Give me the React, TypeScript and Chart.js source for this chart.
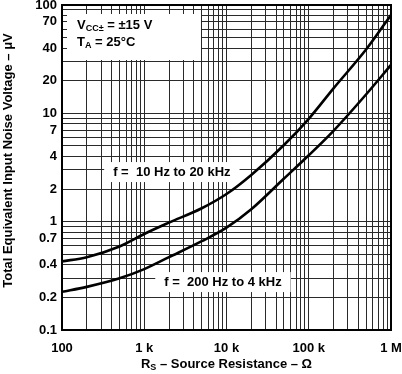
import React, { useEffect, useRef } from 'react';
import { Chart, registerables } from 'chart.js';

Chart.register(...registerables);

// Source resistance (Ω)
const sourceResistance = [100, 200, 500, 1000, 2000, 5000, 10000, 20000, 50000, 100000, 200000, 500000, 1000000];
// Total equivalent input noise voltage (µV), f = 10 Hz to 20 kHz
const noiseWideBand = [0.43, 0.47, 0.59, 0.77, 0.98, 1.33, 1.8, 2.7, 5.1, 8.9, 17, 39, 81];
// Total equivalent input noise voltage (µV), f = 200 Hz to 4 kHz
const noiseNarrowBand = [0.225, 0.25, 0.3, 0.365, 0.47, 0.66, 0.88, 1.3, 2.5, 4.1, 6.9, 15, 28];

const seriesLabels = ['f =  10 Hz to 20 kHz', 'f =  200 Hz to 4 kHz'];

const xTickValues = [100, 1000, 10000, 100000, 1000000];
const xTickLabels = ['100', '1 k', '10 k', '100 k', '1 M'];
const yTickValues = [0.1, 0.2, 0.4, 0.7, 1, 2, 4, 7, 10, 20, 40, 70, 100];
const yTickLabels = ['0.1', '0.2', '0.4', '0.7', '1', '2', '4', '7', '10', '20', '40', '70', '100'];

const xTitle = [{ text: 'R' }, { text: 'S', sub: true }, { text: ' – Source Resistance – Ω' }];
const yTitle = 'Total Equivalent Input Noise Voltage – μV';
const conditionLine1 = [{ text: 'V' }, { text: 'CC±', sub: true }, { text: ' = ±15 V' }];
const conditionLine2 = [{ text: 'T' }, { text: 'A', sub: true }, { text: ' = 25°C' }];

// label anchors in data coordinates (left edge of text, vertical centre)
const labelAnchorsX = [419, 1750];
const labelAnchorsY = [2.87, 0.277];

const FONT = '"Liberation Sans", Arial, Helvetica, sans-serif';

type Part = { text: string; sub?: boolean };

function richWidth(ctx: CanvasRenderingContext2D, parts: Part[], size: number) {
  let w = 0;
  for (const p of parts) {
    ctx.font = `bold ${p.sub ? Math.round(size * 0.72) : size}px ${FONT}`;
    w += ctx.measureText(p.text).width;
  }
  return w;
}

function drawRich(ctx: CanvasRenderingContext2D, parts: Part[], x: number, y: number, size: number) {
  let cx = x;
  ctx.textBaseline = 'middle';
  ctx.textAlign = 'left';
  for (const p of parts) {
    ctx.font = `bold ${p.sub ? Math.round(size * 0.72) : size}px ${FONT}`;
    ctx.fillText(p.text, cx, p.sub ? y + size * 0.3 : y);
    cx += ctx.measureText(p.text).width;
  }
}

function gridValues(min: number, max: number) {
  const out: number[] = [];
  for (let d = min; d < max * 0.999; d *= 10) {
    for (let m = 1; m <= 9; m++) out.push(+(d * m).toPrecision(6));
  }
  out.push(max);
  return out;
}

function labelFor(v: number, values: number[], labels: string[]) {
  const i = values.findIndex((t) => Math.abs(t - v) / t < 1e-6);
  return i >= 0 ? labels[i] : '';
}

const annotationPlugin = {
  id: 'noiseAnnotations',
  beforeDatasetsDraw(chart: any) {
    const { ctx, chartArea, scales } = chart;
    const x = scales.x;
    const y = scales.y;
    ctx.save();
    // condition box
    ctx.fillStyle = '#fff';
    ctx.fillRect(chartArea.left + 5, chartArea.top + 9, 134, 46);
    ctx.fillStyle = '#000';
    drawRich(ctx, conditionLine1, chartArea.left + 15, chartArea.top + 20, 13);
    drawRich(ctx, conditionLine2, chartArea.left + 15, chartArea.top + 37, 13);
    // curve labels
    seriesLabels.forEach((lab, i) => {
      const px = x.getPixelForValue(labelAnchorsX[i]);
      const py = y.getPixelForValue(labelAnchorsY[i]);
      ctx.font = `bold 13px ${FONT}`;
      const w = ctx.measureText(lab).width;
      ctx.fillStyle = '#fff';
      ctx.fillRect(px - 9, py - 10, w + 18, 20);
      ctx.fillStyle = '#000';
      ctx.textBaseline = 'middle';
      ctx.textAlign = 'left';
      ctx.fillText(lab, px, py);
    });
    ctx.restore();
  },
  afterDatasetsDraw(chart: any) {
    const { ctx, chartArea } = chart;
    ctx.save();
    ctx.strokeStyle = '#000';
    ctx.lineWidth = 2;
    ctx.strokeRect(chartArea.left, chartArea.top, chartArea.right - chartArea.left, chartArea.bottom - chartArea.top);
    ctx.restore();
  },
  afterDraw(chart: any) {
    const { ctx, chartArea } = chart;
    ctx.save();
    ctx.fillStyle = '#000';
    // x title
    const w = richWidth(ctx, xTitle, 13);
    drawRich(ctx, xTitle, (chartArea.left + chartArea.right) / 2 - w / 2, chartArea.bottom + 34, 13);
    // y title
    ctx.translate(8, (chartArea.top + chartArea.bottom) / 2 - 7);
    ctx.rotate(-Math.PI / 2);
    ctx.font = `bold 13px ${FONT}`;
    ctx.textAlign = 'center';
    ctx.textBaseline = 'middle';
    ctx.fillText(yTitle, 0, 0);
    ctx.restore();
  },
};

export default function App() {
  const ref = useRef<HTMLCanvasElement | null>(null);

  useEffect(() => {
    if (!ref.current) return;
    const tickFont = { family: FONT, size: 13, weight: 'bold' as const };
    const chart = new Chart(ref.current, {
      type: 'line',
      data: {
        datasets: [
          {
            label: seriesLabels[0],
            data: sourceResistance.map((r, i) => ({ x: r, y: noiseWideBand[i] })),
            borderColor: '#000',
            borderWidth: 2.6,
            pointRadius: 0,
            cubicInterpolationMode: 'monotone',
            fill: false,
          },
          {
            label: seriesLabels[1],
            data: sourceResistance.map((r, i) => ({ x: r, y: noiseNarrowBand[i] })),
            borderColor: '#000',
            borderWidth: 2.6,
            pointRadius: 0,
            cubicInterpolationMode: 'monotone',
            fill: false,
          },
        ],
      },
      options: {
        animation: false,
        responsive: false,
        events: [],
        layout: { padding: { top: 5, right: 11, left: 0, bottom: 0 } },
        plugins: { legend: { display: false }, tooltip: { enabled: false }, title: { display: false } },
        scales: {
          x: {
            type: 'logarithmic',
            min: 100,
            max: 1000000,
            afterBuildTicks: (s: any) => {
              s.ticks = gridValues(100, 1000000).map((v) => ({ value: v }));
            },
            afterFit: (s: any) => {
              s.height = 44;
              s.paddingLeft = 0;
              s.paddingRight = 0;
            },
            ticks: {
              autoSkip: false,
              maxRotation: 0,
              minRotation: 0,
              padding: 11,
              color: '#000',
              font: tickFont,
              callback: (v: any) => labelFor(Number(v), xTickValues, xTickLabels),
            },
            grid: { color: '#2a2a2a', lineWidth: 1, drawTicks: false },
            border: { display: false },
          },
          y: {
            type: 'logarithmic',
            min: 0.1,
            max: 100,
            afterBuildTicks: (s: any) => {
              s.ticks = gridValues(0.1, 100).map((v) => ({ value: v }));
            },
            afterFit: (s: any) => {
              s.width = 62;
              s.paddingTop = 0;
              s.paddingBottom = 0;
            },
            ticks: {
              autoSkip: false,
              padding: 5,
              color: '#000',
              font: tickFont,
              callback: (v: any) => labelFor(Number(v), yTickValues, yTickLabels),
            },
            grid: { color: '#2a2a2a', lineWidth: 1, drawTicks: false },
            border: { display: false },
          },
        },
      },
      plugins: [annotationPlugin],
    } as any);
    return () => chart.destroy();
  }, []);

  return (
    <div style={{ position: 'fixed', left: 0, top: 0, width: 402, height: 374, background: '#fff' }}>
      <canvas ref={ref} width={402} height={374} style={{ display: 'block' }} />
    </div>
  );
}
